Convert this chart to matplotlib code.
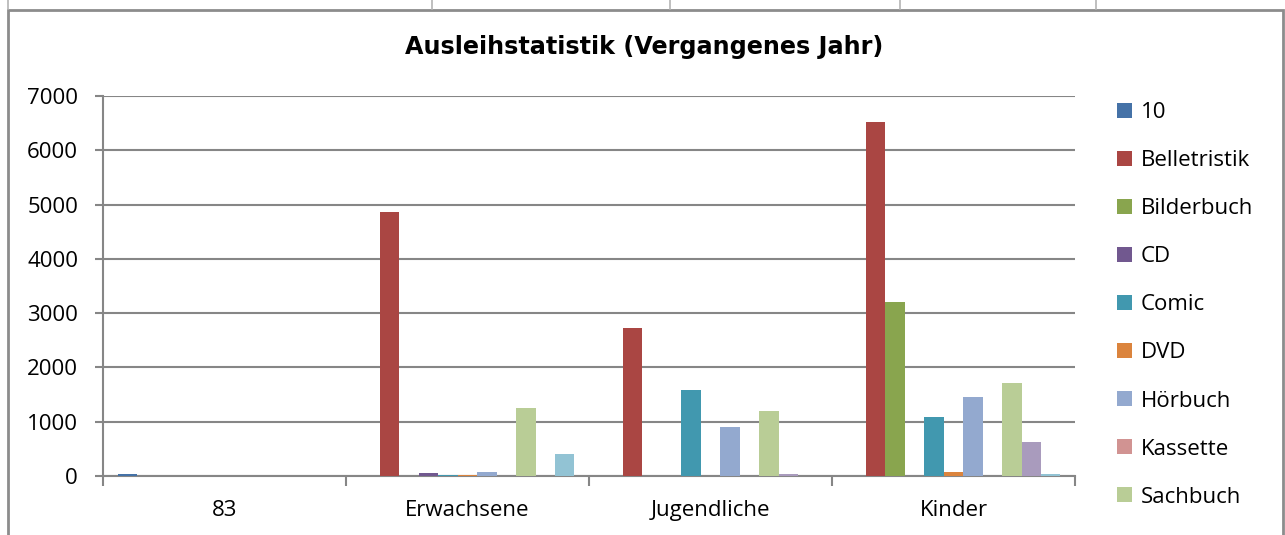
import numpy as np
import matplotlib
matplotlib.use('Agg')
import matplotlib.pyplot as plt
from matplotlib.patches import Rectangle
from matplotlib.lines import Line2D

# chart data
categories = ['83', 'Erwachsene', 'Jugendliche', 'Kinder']
series_names = ['10', 'Belletristik', 'Bilderbuch', 'CD', 'Comic', 'DVD',
                'Hörbuch', 'Kassette', 'Sachbuch', 'Spiel', 'Zeitschrift']
v_10 = [40, 0, 0, 0]
v_belletristik = [0, 4870, 2730, 6520]
v_bilderbuch = [0, 0, 0, 3210]
v_cd = [0, 50, 0, 0]
v_comic = [0, 15, 1590, 1090]
v_dvd = [0, 10, 8, 80]
v_hoerbuch = [0, 70, 910, 1460]
v_kassette = [0, 0, 0, 0]
v_sachbuch = [0, 1260, 1200, 1720]
v_spiel = [0, 0, 45, 630]
v_zeitschrift = [0, 400, 0, 45]
yticks = [0, 1000, 2000, 3000, 4000, 5000, 6000, 7000]

values = [v_10, v_belletristik, v_bilderbuch, v_cd, v_comic, v_dvd,
          v_hoerbuch, v_kassette, v_sachbuch, v_spiel, v_zeitschrift]
colors = ['#4572A7', '#AA4643', '#89A54E', '#71588F', '#4198AF', '#DB843D',
          '#93A9CF', '#D19392', '#B9CD96', '#A99BBD', '#92C3D4']

W, H = 1285, 535
GRAY = '#868686'
FONT = 'Open Sans'
FS = 16

fig = plt.figure(figsize=(W / 100, H / 100), dpi=100)
ax = fig.add_axes([103 / W, 1 - 476 / H, (1075 - 103) / W, (476 - 96) / H])

n = len(values)
w = 1 / (n + 1.5)   # excel gap width 150%
x = np.arange(len(categories))
for i, (vals, c) in enumerate(zip(values, colors)):
    ax.bar(x - 0.5 + (0.75 + i + 0.5) * w, vals, width=w, color=c,
           label=series_names[i], zorder=3, linewidth=0)

ax.set_xlim(-0.5, len(categories) - 0.5)
ax.set_ylim(0, 7000)
ax.set_yticks(yticks)
ax.yaxis.grid(True, color=GRAY, linewidth=1.5, zorder=0)
ax.set_axisbelow(True)

ax.set_xticks(np.arange(len(categories) + 1) - 0.5)
ax.set_xticklabels([])
ax.set_xticks(x, minor=True)
ax.set_xticklabels(categories, minor=True, fontsize=FS, family=FONT)
ax.tick_params(axis='x', which='major', length=7, width=1.5, color=GRAY)
ax.tick_params(axis='x', which='minor', length=0, pad=17)
ax.tick_params(axis='y', length=6, width=1.5, color=GRAY, pad=12,
               labelsize=FS)
for lab in ax.get_yticklabels():
    lab.set_family(FONT)

for s in ['top', 'right']:
    ax.spines[s].set_visible(False)
for s in ['left', 'bottom']:
    ax.spines[s].set_color(GRAY)
    ax.spines[s].set_linewidth(1.5)

handles, labels = ax.get_legend_handles_labels()
ax.legend(handles[:9], labels[:9], loc='upper left',
          bbox_to_anchor=(1108 / W, 1 - 93 / H), bbox_transform=fig.transFigure,
          frameon=False, prop={'family': FONT, 'size': FS},
          handlelength=0.66, handleheight=0.66, handletextpad=0.42,
          labelspacing=1.22, borderaxespad=0)

fig.text(644 / W, 1 - 47 / H, 'Ausleihstatistik (Vergangenes Jahr)',
         ha='center', va='center', fontsize=17.2, fontweight='bold',
         family='DejaVu Sans')

# chart frame and the sheet grid lines above it
fig.add_artist(Rectangle((8 / W, -0.1), (1283 - 8) / W, 1.1 - 10 / H,
                         transform=fig.transFigure, fill=False,
                         edgecolor='#8c8c8c', linewidth=2))
for px in [8, 432, 670, 900, 1096]:
    fig.add_artist(Line2D([px / W, px / W], [1 - 9 / H, 1],
                          transform=fig.transFigure, color='#b4b4b4',
                          linewidth=1.2))

fig.savefig('out.png', dpi=100)
